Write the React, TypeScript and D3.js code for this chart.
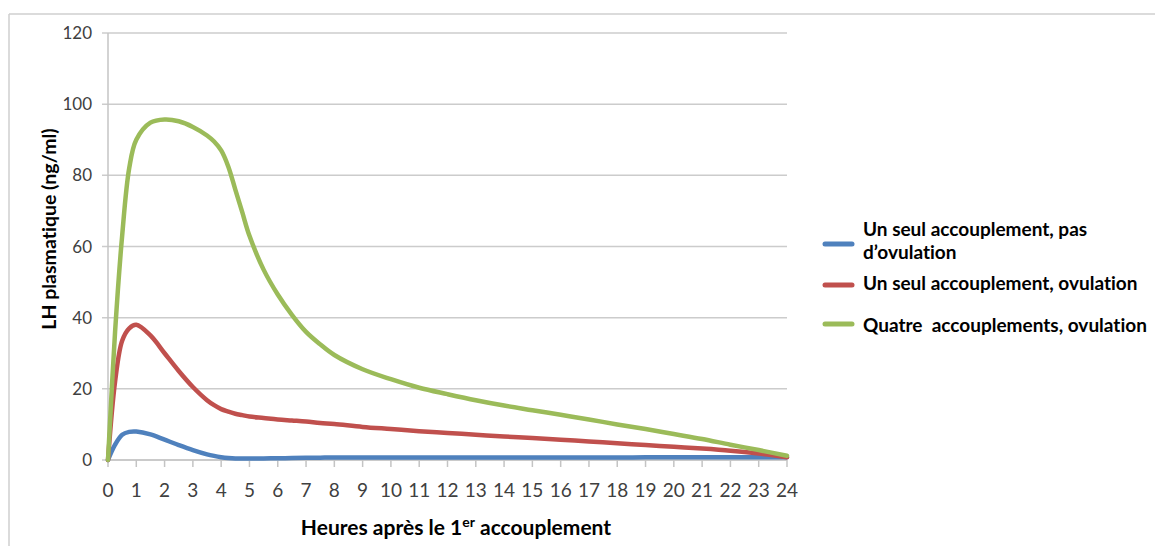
import React from "react";
import * as d3 from "d3";

const hours = [0, 0.25, 0.5, 0.75, 1, 1.5, 2, 2.5, 3, 3.5, 3.75, 4, 4.25, 4.5, 4.75, 5, 5.5, 6, 6.5, 7, 7.5, 8, 9, 10, 11, 12, 13, 14, 15, 16, 17, 18, 19, 20, 21, 22, 23, 24];

const greenValues = [0, 36, 63, 82, 90, 94.8, 95.7, 95.2, 93.6, 91.2, 89.5, 87, 82.5, 76, 69.5, 63, 53.5, 46.5, 40.8, 36, 32.5, 29.5, 25.5, 22.7, 20.3, 18.5, 16.8, 15.3, 14, 12.7, 11.4, 10, 8.7, 7.3, 5.9, 4.3, 2.8, 1.2];
const redValues = [0, 22, 33.5, 37, 38, 35, 30, 25, 20.5, 16.8, 15.4, 14.3, 13.6, 13, 12.6, 12.2, 11.8, 11.4, 11.1, 10.8, 10.4, 10.1, 9.3, 8.7, 8.1, 7.6, 7.1, 6.6, 6.2, 5.7, 5.2, 4.7, 4.2, 3.7, 3.2, 2.6, 1.8, 0.8];
const blueValues = [0, 4.3, 7.1, 7.9, 8.0, 7.2, 5.7, 4.2, 2.8, 1.6, 1.15, 0.8, 0.55, 0.4, 0.4, 0.4, 0.45, 0.5, 0.55, 0.6, 0.65, 0.7, 0.7, 0.7, 0.7, 0.7, 0.7, 0.7, 0.7, 0.7, 0.7, 0.7, 0.75, 0.75, 0.75, 0.8, 0.8, 0.8];

const seriesNames = [
  ["Un seul accouplement, pas", "d\u2019ovulation"],
  ["Un seul accouplement, ovulation"],
  ["Quatre  accouplements, ovulation"],
];
const seriesColors = ["#4f81bd", "#c0504d", "#9bbb59"];
const yTicks = [0, 20, 40, 60, 80, 100, 120];
const xTicks = d3.range(0, 25);

export default function App() {
  const W = 1155, H = 546;
  const x = d3.scaleLinear().domain([0, 24]).range([108, 787]);
  const y = d3.scaleLinear().domain([0, 120]).range([460, 33]);
  const line = d3
    .line<[number, number]>()
    .x((d) => x(d[0]))
    .y((d) => y(d[1]))
    .curve(d3.curveCatmullRom.alpha(0.5));
  const all = [blueValues, redValues, greenValues];
  const font = "Lato, 'Open Sans', sans-serif";
  const legendY = [244, 285, 324];
  const legendText = [[236, 259], [290], [332]];
  return (
    <svg
      width={W}
      height={H}
      style={{ position: "absolute", left: 0, top: 0, background: "#fff", fontVariantLigatures: "none" }}
      fontFamily={font}
    >
      <rect x={0} y={0} width={W} height={H} fill="#fff" />
      {/* frame */}
      <line x1={9} x2={W + 5} y1={14} y2={14} stroke="#cfcfcf" strokeWidth={1.5} />
      <line x1={9} x2={9} y1={14} y2={H + 5} stroke="#cfcfcf" strokeWidth={1.5} />
      {/* grid */}
      {yTicks.map((t) => (
        <g key={t}>
          <line x1={102} x2={787} y1={y(t)} y2={y(t)} stroke="#cccccc" strokeWidth={1.5} />
          <text x={92} y={y(t)} dy="0.36em" textAnchor="end" fontSize={17} fill="#404040">
            {t}
          </text>
        </g>
      ))}
      <line x1={x(0)} x2={x(0)} y1={y(120)} y2={y(0)} stroke="#c4c4c4" strokeWidth={1.5} />
      <line x1={x(0)} x2={x(24)} y1={y(0)} y2={y(0)} stroke="#c4c4c4" strokeWidth={1.5} />
      {xTicks.map((t) => (
        <g key={t}>
          <line x1={x(t)} x2={x(t)} y1={y(0)} y2={y(0) + 7} stroke="#c4c4c4" strokeWidth={1.5} />
          <text x={x(t)} y={497} textAnchor="middle" fontSize={19} fill="#404040">
            {t}
          </text>
        </g>
      ))}
      {/* lines */}
      {all.map((vals, i) => (
        <path
          key={i}
          d={line(hours.map((h, j) => [h, vals[j]] as [number, number])) || ""}
          fill="none"
          stroke={seriesColors[i]}
          strokeWidth={4.5}
          strokeLinejoin="round"
          strokeLinecap="round"
        />
      ))}
      {/* axis titles */}
      <text
        transform={`translate(56,229) rotate(-90)`}
        textAnchor="middle"
        fontSize={19.5}
        fontWeight="bold"
        fill="#000"
      >
        LH plasmatique (ng/ml)
      </text>
      <text x={456} y={535} textAnchor="middle" fontSize={21} fontWeight="bold" fill="#000">
        Heures après le 1<tspan fontSize={14} dy={-8}>er</tspan>
        <tspan dy={8}> accouplement</tspan>
      </text>
      {/* legend */}
      {seriesNames.map((lines, i) => (
        <g key={i}>
          <line x1={825} x2={852} y1={legendY[i]} y2={legendY[i]} stroke={seriesColors[i]} strokeWidth={5} strokeLinecap="round" />
          {lines.map((s, k) => (
            <text key={k} x={863} y={legendText[i][k]} fontSize={19} fontWeight="bold" fill="#000" style={{ whiteSpace: "pre" }}>
              {s}
            </text>
          ))}
        </g>
      ))}
    </svg>
  );
}
